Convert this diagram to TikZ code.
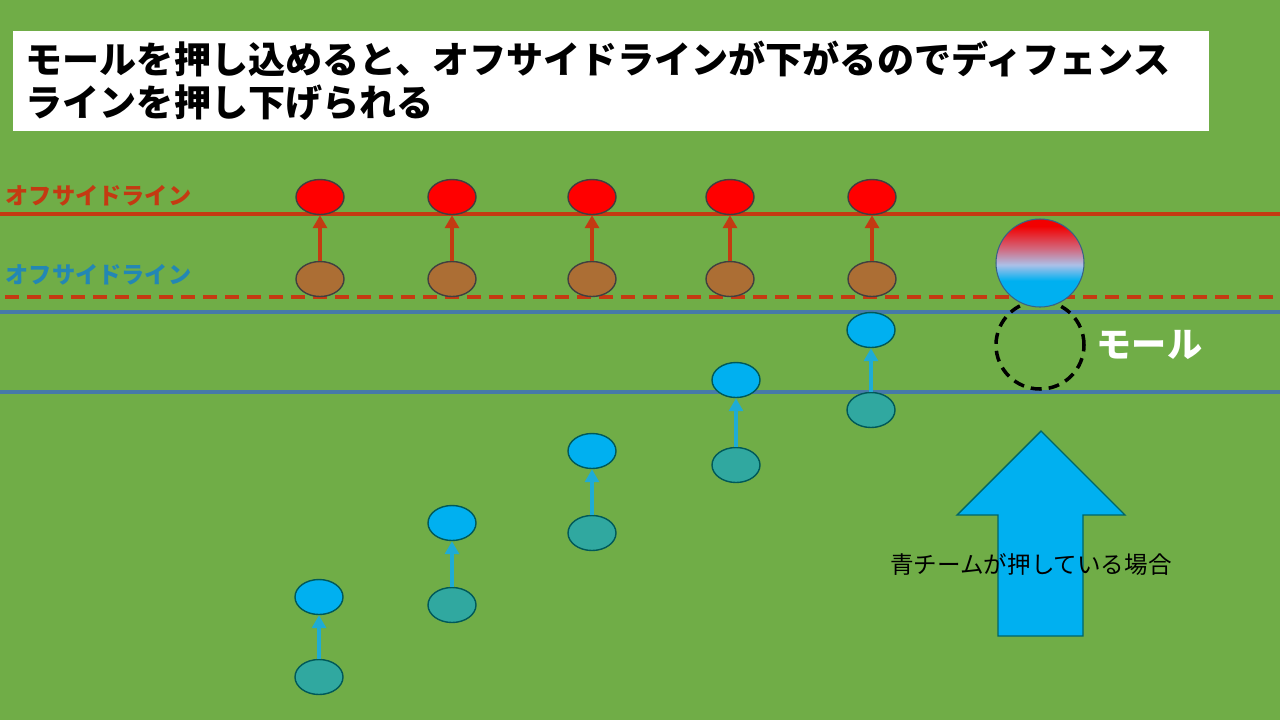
\documentclass[tikz,border=0pt]{standalone}
\usepackage{fontspec}
\newfontfamily\jp{Noto Sans CJK JP}
\usepackage{tikz}
\usetikzlibrary{shapes.geometric,arrows.meta,positioning}
\definecolor{field}{RGB}{112,173,71}
\definecolor{offred}{RGB}{196,58,18}
\definecolor{offblue}{RGB}{35,135,180}
\definecolor{lineblue}{RGB}{70,122,168}
\definecolor{redman}{RGB}{255,0,0}
\definecolor{brownman}{RGB}{172,110,52}
\definecolor{blueman}{RGB}{0,176,240}
\definecolor{tealman}{RGB}{48,168,160}
\definecolor{pushcyan}{RGB}{30,172,214}
\definecolor{mid}{RGB}{172,192,232}
\pgfdeclareverticalshading{maulshade}{100bp}{color(0bp)=(blueman); color(40bp)=(blueman); color(49bp)=(mid); color(58bp)=(mid!55!redman); color(71bp)=(redman!95!black); color(100bp)=(redman!95!black)}

\tikzset{
  man/.style={ellipse,draw=black!75,line width=0.4pt,inner sep=0pt,minimum width=4.8mm,minimum height=3.5mm},
  redarrow/.style={draw=offred,line width=1.1pt,-{Triangle[width=1.4mm,length=1.3mm]}},
  bluearrow/.style={draw=pushcyan,line width=1.1pt,-{Triangle[width=1.4mm,length=1.3mm]}},
}

\begin{document}
\begin{tikzpicture}[x=0.1mm,y=-0.1mm,font=\jp]
	\fill[field] (0,0) rectangle (1280,720);
	\useasboundingbox (0,0) rectangle (1280,720);
	% title
	\node[fill=white,anchor=north west,inner xsep=1.3mm,inner ysep=0pt,minimum height=10mm,text width=117mm,align=left,font=\jp\bfseries\fontsize{10.55}{12.3}\selectfont] (title) at (12,30) {モールを押し込めると、オフサイドラインが下がるのでディフェンス\\ラインを押し下げられる};
	% lines
	\draw[offred,line width=1.1pt] (0,214) -- (1280,214);
	\draw[offred,line width=1.1pt,dash pattern=on 1.4mm off 0.8mm] (5,297) -- (1280,297);
	\draw[lineblue,line width=1.1pt] (0,312) -- (1280,312);
	\draw[lineblue,line width=1.1pt] (0,392) -- (1280,392);
	\node[anchor=west,inner sep=0pt,text=offred,font=\jp\bfseries\fontsize{6.6}{8}\selectfont] (redlabel) at (5,196) {オフサイドライン};
	\node[anchor=west,inner sep=0pt,text=offblue,font=\jp\bfseries\fontsize{6.6}{8}\selectfont] (bluelabel) at (5,275) {オフサイドライン};
	% defence
	\foreach \i/\x in {1/320,2/452,3/592,4/730,5/872} {
		\node[man,fill=brownman] (b\i) at (\x,279) {};
		\node[man,fill=redman] (r\i) at (\x,197) {};
		\draw[redarrow] (b\i) -- (r\i);
	}
	% attack
	\foreach \i/\x/\y/\z in {1/319/677/597,2/452/605/523,3/592/533/451,4/736/465/380,5/871/410/330} {
		\node[man,fill=tealman,draw=teal!70!black] (t\i) at (\x,\y) {};
		\node[man,fill=blueman,draw=teal!70!black] (c\i) at (\x,\z) {};
		\draw[bluearrow] (t\i) -- (c\i);
	}
	% maul
	\node[circle,draw=black,line width=1pt,dash pattern=on 1.1mm off 0.7mm,minimum size=8.8mm,inner sep=0pt] (oldmaul) at (1040,345) {};
	\node[circle,draw=lineblue!80!black,line width=0.3pt,minimum size=8.8mm,inner sep=0pt,shading=maulshade] (maul) at (1040,263) {};
	\node[anchor=west,inner sep=0pt,text=white,font=\jp\bfseries\fontsize{10}{11}\selectfont] (maullabel) at (1096,345) {モール};
	% push
	\draw[fill=blueman,draw=teal!80!black,line width=0.4pt] (1041,431) -- (1125,515) -- (1083,515) -- (1083,636) -- (998,636) -- (998,515) -- (957,515) -- cycle;
	\node[inner sep=0pt,font=\jp\fontsize{6.7}{8}\selectfont] (pushlabel) at (1031,565) {青チームが押している場合};
\end{tikzpicture}
\end{document}
